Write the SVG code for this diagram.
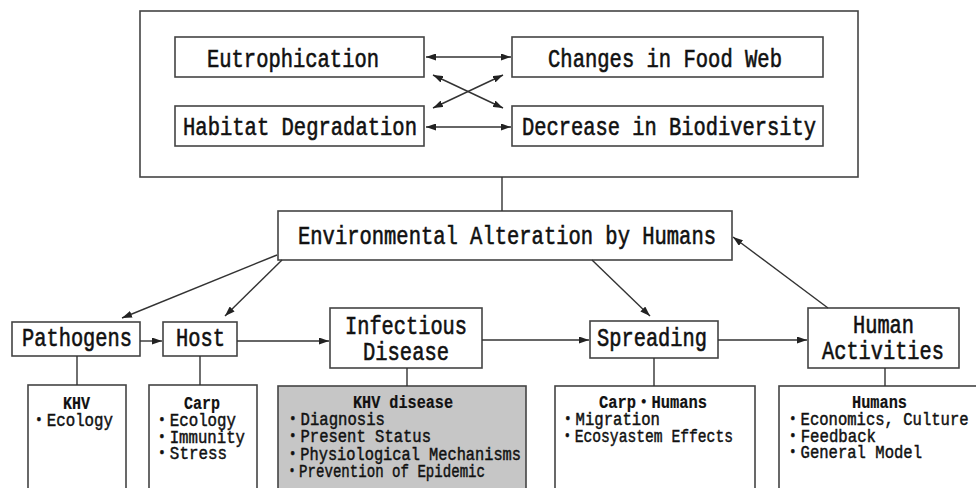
<svg xmlns="http://www.w3.org/2000/svg" width="976" height="488" viewBox="0 0 976 488">
<defs>
<marker id="ah" markerUnits="userSpaceOnUse" markerWidth="10" markerHeight="7" refX="10" refY="3.5" orient="auto-start-reverse">
<path d="M0,0 L10,3.5 L0,7 z" fill="#222"/>
</marker>
<style>
.box{fill:#fff;stroke:#444;stroke-width:1.6}
.gray{fill:#c6c6c6;stroke:#444;stroke-width:1.6}
.big{font-family:"Liberation Mono","Noto Sans CJK JP",monospace;font-size:26px;fill:#111;stroke:#111;stroke-width:0.6}
.sm{font-family:"Liberation Mono","Noto Sans CJK JP",monospace;font-size:17.5px;fill:#111;stroke:#111;stroke-width:0.45}
.hd{font-weight:bold;stroke-width:0.2}
.ln{fill:none;stroke:#333;stroke-width:1.4}
.arr{fill:none;stroke:#333;stroke-width:1.4;marker-end:url(#ah)}
.dbl{fill:none;stroke:#333;stroke-width:1.4;marker-end:url(#ah);marker-start:url(#ah)}
</style>
</defs>
<rect width="976" height="488" fill="#fff"/>
<g id="outer"><rect class="box" x="140" y="11" width="718" height="166"/></g>
<g id="eutrophication"><rect class="box" x="175" y="37" width="249" height="40"/><text class="big" x="207" y="67" textLength="172" lengthAdjust="spacingAndGlyphs">Eutrophication</text></g>
<g id="habitat"><rect class="box" x="175" y="106" width="249" height="40"/><text class="big" x="183" y="135" textLength="234" lengthAdjust="spacingAndGlyphs">Habitat Degradation</text></g>
<g id="foodweb"><rect class="box" x="512" y="37" width="311" height="40"/><text class="big" x="548" y="67" textLength="234" lengthAdjust="spacingAndGlyphs">Changes in Food Web</text></g>
<g id="biodiversity"><rect class="box" x="512" y="106" width="311" height="40"/><text class="big" x="522" y="135" textLength="294" lengthAdjust="spacingAndGlyphs">Decrease in Biodiversity</text></g>
<g id="env"><rect class="box" x="278" y="211" width="454" height="49"/><text class="big" x="298" y="244" textLength="418" lengthAdjust="spacingAndGlyphs">Environmental Alteration by Humans</text></g>
<g id="pathogens"><rect class="box" x="12" y="322" width="128" height="34"/><text class="big" x="22" y="346" textLength="110" lengthAdjust="spacingAndGlyphs">Pathogens</text></g>
<g id="host"><rect class="box" x="163" y="322" width="74" height="34"/><text class="big" x="176" y="346" textLength="49" lengthAdjust="spacingAndGlyphs">Host</text></g>
<g id="disease"><rect class="box" x="330" y="308" width="152" height="60"/><text class="big" x="345" y="334" textLength="122" lengthAdjust="spacingAndGlyphs">Infectious</text><text class="big" x="363" y="360" textLength="86" lengthAdjust="spacingAndGlyphs">Disease</text></g>
<g id="spreading"><rect class="box" x="590" y="321" width="128" height="37"/><text class="big" x="597" y="346" textLength="110" lengthAdjust="spacingAndGlyphs">Spreading</text></g>
<g id="human"><rect class="box" x="808" y="308" width="151" height="60"/><text class="big" x="853" y="333" textLength="61" lengthAdjust="spacingAndGlyphs">Human</text><text class="big" transform="translate(822,359) scale(0.782,1)" x="0" y="0">Activities</text></g>
<g id="khv"><rect class="box" x="28" y="385" width="98" height="120"/><text class="sm hd" x="63" y="409" textLength="27" lengthAdjust="spacingAndGlyphs">KHV</text><text class="sm" x="31" y="426" textLength="82" lengthAdjust="spacingAndGlyphs">・Ecology</text></g>
<g id="carp"><rect class="box" x="149" y="385" width="108" height="120"/><text class="sm hd" x="184" y="409" textLength="36" lengthAdjust="spacingAndGlyphs">Carp</text><text class="sm" x="154" y="426" textLength="82" lengthAdjust="spacingAndGlyphs">・Ecology</text><text class="sm" x="154" y="443" textLength="91" lengthAdjust="spacingAndGlyphs">・Immunity</text><text class="sm" x="154" y="459" textLength="73" lengthAdjust="spacingAndGlyphs">・Stress</text></g>
<g id="khvdisease"><rect class="gray" x="278" y="386" width="248" height="120"/><text class="sm hd" x="353" y="408" textLength="100" lengthAdjust="spacingAndGlyphs">KHV disease</text><text class="sm" x="285" y="425" textLength="100" lengthAdjust="spacingAndGlyphs">・Diagnosis</text><text class="sm" x="285" y="442" textLength="146" lengthAdjust="spacingAndGlyphs">・Present Status</text><text class="sm" x="285" y="460" textLength="236" lengthAdjust="spacingAndGlyphs">・Physiological Mechanisms</text><text class="sm" x="285" y="477" textLength="200" lengthAdjust="spacingAndGlyphs">・Prevention of Epidemic</text></g>
<g id="carphumans"><rect class="box" x="555" y="386" width="200" height="120"/><text class="sm hd" x="599" y="408" textLength="108" lengthAdjust="spacingAndGlyphs">Carp・Humans</text><text class="sm" x="560" y="425" textLength="100" lengthAdjust="spacingAndGlyphs">・Migration</text><text class="sm" x="560" y="442" textLength="173" lengthAdjust="spacingAndGlyphs">・Ecosyastem Effects</text></g>
<g id="humans"><rect class="box" x="779" y="386" width="210" height="120"/><text class="sm hd" x="852" y="408" textLength="55" lengthAdjust="spacingAndGlyphs">Humans</text><text class="sm" transform="translate(785,425) scale(0.89,1)" x="0" y="0">・Economics, Culture</text><text class="sm" x="785" y="442" textLength="91" lengthAdjust="spacingAndGlyphs">・Feedback</text><text class="sm" x="785" y="458" textLength="137" lengthAdjust="spacingAndGlyphs">・General Model</text></g>
<g id="connectors">
<line class="dbl" x1="426" y1="57" x2="511" y2="57"/>
<line class="dbl" x1="426" y1="127" x2="511" y2="127"/>
<line class="dbl" x1="433" y1="75" x2="503" y2="108"/>
<line class="dbl" x1="433" y1="108" x2="503" y2="75"/>
<line class="ln" x1="502" y1="177" x2="502" y2="211"/>
<line class="arr" x1="277" y1="255" x2="122" y2="318"/>
<line class="arr" x1="282" y1="260" x2="225" y2="316"/>
<line class="arr" x1="592" y1="260" x2="650" y2="316"/>
<line class="arr" x1="828" y1="308" x2="733" y2="237"/>
<line class="arr" x1="140" y1="341" x2="162" y2="341"/>
<line class="arr" x1="237" y1="341" x2="329" y2="341"/>
<line class="arr" x1="482" y1="340" x2="589" y2="340"/>
<line class="arr" x1="718" y1="340" x2="807" y2="340"/>
<line class="ln" x1="77" y1="356" x2="77" y2="385"/>
<line class="ln" x1="200" y1="356" x2="200" y2="385"/>
<line class="ln" x1="407" y1="368" x2="407" y2="386"/>
<line class="ln" x1="654" y1="358" x2="654" y2="386"/>
<line class="ln" x1="885" y1="368" x2="885" y2="386"/>
</g>
</svg>
